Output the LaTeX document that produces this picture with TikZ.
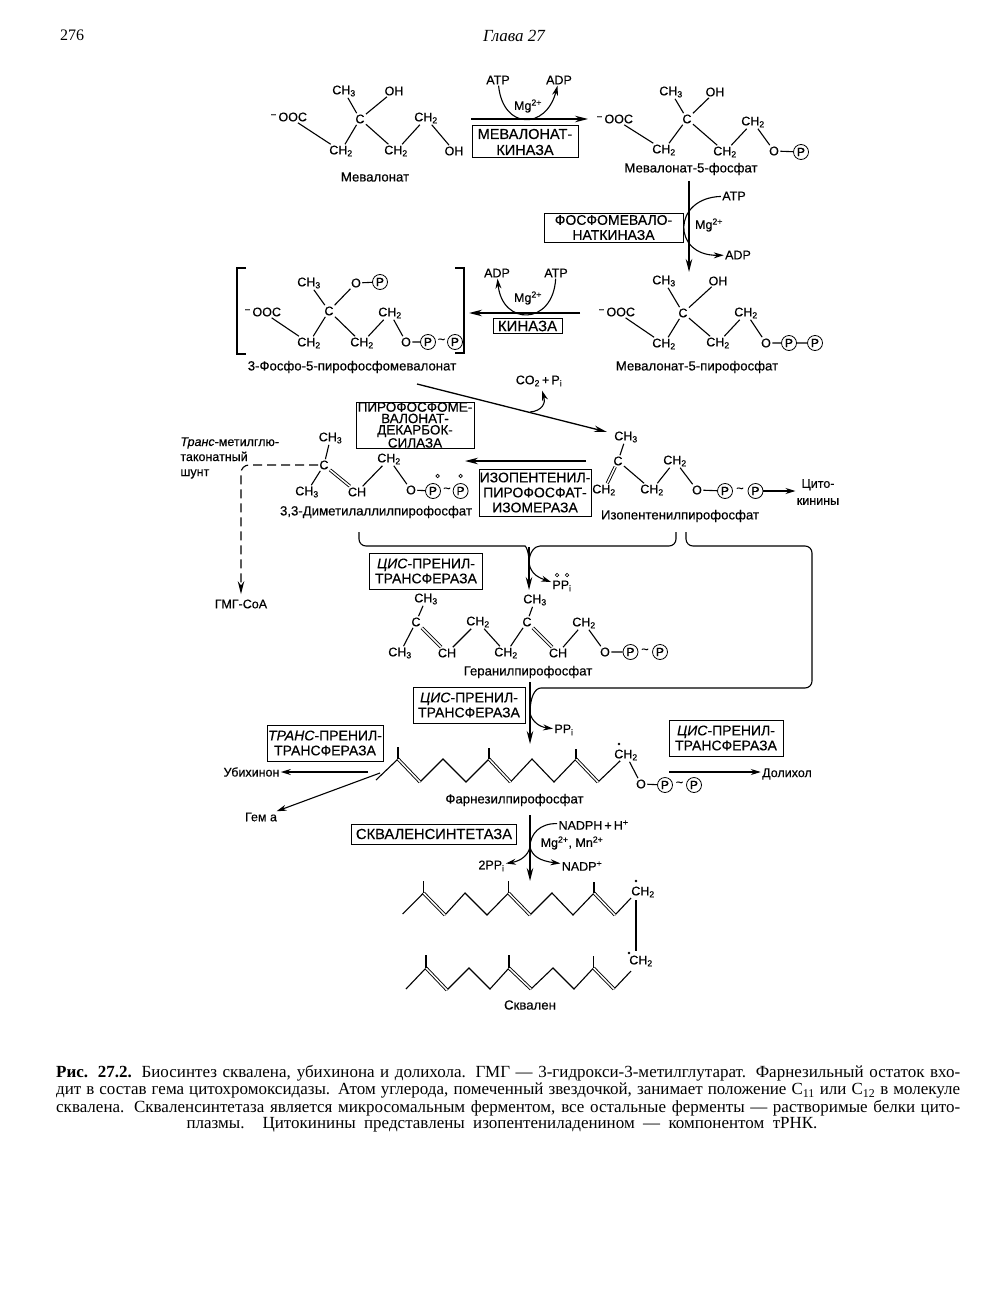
\documentclass[tikz,border=0pt]{standalone}
\usepackage{fontspec}
\setmainfont[FakeBold=0.35]{Liberation Sans}
\newfontfamily\capfont{Liberation Serif}
\usepackage{tikz}
\usetikzlibrary{arrows.meta}
\newcommand{\CHtri}{CH\textsubscript{3}}
\newcommand{\CHdi}{CH\textsubscript{2}}
\newcommand{\OOCm}{\textsuperscript{--}\,OOC}
\newcommand{\PPi}{PP\textsubscript{i}}
\newcommand{\Mgion}{Mg\textsuperscript{2+}}
\newcommand{\capline}[1]{\makebox[904pt][s]{#1}}

\begin{document}
\begin{tikzpicture}[
  x=1pt, y=-1pt,
  atom/.style={font=\fontsize{12.5}{14}\selectfont, inner sep=1.2pt},
  phos/.style={circle, draw, line width=0.8pt, inner sep=0pt, minimum size=15pt,
    font=\fontsize{12}{13}\selectfont},
  opendot/.style={circle, draw, line width=0.7pt, inner sep=0pt, minimum size=3.5pt},
  stardot/.style={circle, fill, inner sep=0pt, minimum size=2.6pt},
  molname/.style={font=\fontsize{13.2}{15}\selectfont, inner sep=1pt},
  enzyme/.style={draw, line width=1pt, align=center, inner sep=0pt,
    font=\fontsize{14}{15}\selectfont},
  capt/.style={font=\capfont\fontsize{17}{19}\selectfont, inner sep=0pt},
  bond/.style={line width=1.1pt},
  dbl/.style={line width=0.9pt, double, double distance=1.5pt},
  rxn/.style={line width=1.3pt, -{Stealth[length=13pt,width=6.5pt]}},
  side/.style={line width=1.1pt, -{Stealth[length=10pt,width=6pt]}},
  link/.style={line width=1.1pt, rounded corners=7pt}
]
\useasboundingbox (0,0) rectangle (1008,1300);

% Шапка страницы
\node[font=\capfont\fontsize{16}{18}\selectfont] (pagenum) at (72,35) {276};
\node[font=\capfont\itshape\fontsize{17}{19}\selectfont] (chapter) at (514,36) {Глава 27};

% Мевалонат
\node[atom] (mOOC) at (289,117) {\OOCm};
\node[atom] (mC) at (360,119) {C};
\node[atom] (mMe) at (344,91) {\CHtri};
\node[atom] (mOHa) at (394,91) {OH};
\node[atom] (mCHa) at (341,151) {\CHdi};
\node[atom] (mCHb) at (396,151) {\CHdi};
\node[atom] (mCHc) at (426,118) {\CHdi};
\node[atom] (mOHb) at (454,151) {OH};
\node[molname] (mName) at (375,177) {Мевалонат};
\draw[bond] (mC) -- (mMe);
\draw[bond] (mC) -- (mOHa);
\draw[bond] (mOOC) -- (mCHa) -- (mC) -- (mCHb) -- (mCHc) -- (mOHb);

% Мевалонат-5-фосфат
\node[atom] (nOOC) at (615,119) {\OOCm};
\node[atom] (nC) at (687,119) {C};
\node[atom] (nMe) at (671,92) {\CHtri};
\node[atom] (nOH) at (715,92) {OH};
\node[atom] (nCHa) at (664,150) {\CHdi};
\node[atom] (nCHb) at (725,152) {\CHdi};
\node[atom] (nCHc) at (753,122) {\CHdi};
\node[atom] (nO) at (774,151) {O};
\node[phos] (nP) at (801,152) {P};
\node[molname] (nName) at (691,169) {Мевалонат-5-фосфат};
\draw[bond] (nC) -- (nMe);
\draw[bond] (nC) -- (nOH);
\draw[bond] (nOOC) -- (nCHa) -- (nC) -- (nCHb) -- (nCHc) -- (nO) -- (nP);

% Мевалонат-5-пирофосфат
\node[atom] (qOOC) at (617,312) {\OOCm};
\node[atom] (qC) at (683,313) {C};
\node[atom] (qMe) at (664,281) {\CHtri};
\node[atom] (qOH) at (718,281) {OH};
\node[atom] (qCHa) at (664,344) {\CHdi};
\node[atom] (qCHb) at (718,343) {\CHdi};
\node[atom] (qCHc) at (746,313) {\CHdi};
\node[atom] (qO) at (766,343) {O};
\node[phos] (qPa) at (789,343) {P};
\node[phos] (qPb) at (815,343) {P};
\node[molname] (qName) at (697,367) {Мевалонат-5-пирофосфат};
\draw[bond] (qC) -- (qMe);
\draw[bond] (qC) -- (qOH);
\draw[bond] (qOOC) -- (qCHa) -- (qC) -- (qCHb) -- (qCHc) -- (qO) -- (qPa) -- (qPb);

% 3-Фосфо-5-пирофосфомевалонат
\node[atom] (pOOC) at (263,312) {\OOCm};
\node[atom] (pC) at (329,311) {C};
\node[atom] (pMe) at (309,283) {\CHtri};
\node[atom] (pOa) at (356,283) {O};
\node[phos] (pPa) at (380,282) {P};
\node[atom] (pCHa) at (309,343) {\CHdi};
\node[atom] (pCHb) at (362,343) {\CHdi};
\node[atom] (pCHc) at (390,313) {\CHdi};
\node[atom] (pOb) at (406,342) {O};
\node[phos] (pPb) at (428,342) {P};
\node[atom] (pTil) at (441.5,341) {\textasciitilde};
\node[phos] (pPc) at (455,342) {P};
\node[molname] (pName) at (352,367) {3-Фосфо-5-пирофосфомевалонат};
\draw[bond] (pC) -- (pMe);
\draw[bond] (pC) -- (pOa) -- (pPa);
\draw[bond] (pOOC) -- (pCHa) -- (pC) -- (pCHb) -- (pCHc) -- (pOb) -- (pPb);
\draw[line width=1.2pt] (246,268) -- (237,268) -- (237,354) -- (246,354);
\draw[line width=1.2pt] (455,268) -- (464,268) -- (464,353) -- (455,353);

% Реакция 1
\node[atom] (atpA) at (498,80) {ATP};
\node[atom] (adpA) at (559,80) {ADP};
\node[atom] (mgA) at (528,106) {\Mgion};
\node[enzyme, minimum width=106pt, minimum height=32pt, font=\fontsize{14.5}{16}\selectfont] (mevk) at (525,142) {МЕВАЛОНАТ-\\КИНАЗА};
\coordinate (rAs) at (471,119);
\coordinate (rAe) at (588,119);
\draw[rxn] (rAs) -- (rAe);
\draw[side] (atpA) .. controls (503,130) and (546,130) .. (adpA);

% Реакция 2
\node[atom] (atpB) at (734,196) {ATP};
\node[atom] (adpB) at (738,255) {ADP};
\node[atom] (mgB) at (709,225) {\Mgion};
\node[enzyme, minimum width=139pt, minimum height=29pt] (fmevk) at (613.5,227.5) {ФОСФОМЕВАЛО-\\НАТКИНАЗА};
\coordinate (rBs) at (689,181);
\coordinate (rBe) at (689,272);
\draw[rxn] (rBs) -- (rBe);
\draw[side] (atpB) .. controls (672,198) and (672,256) .. (adpB);

% Реакция 3
\node[atom] (atpC) at (556,273) {ATP};
\node[atom] (adpC) at (497,273) {ADP};
\node[atom] (mgC) at (528,298) {\Mgion};
\node[enzyme, minimum width=69pt, minimum height=15pt, font=\fontsize{15}{16}\selectfont] (kin) at (527.5,326) {КИНАЗА};
\coordinate (rCs) at (580,313);
\coordinate (rCe) at (469,313);
\draw[rxn] (rCs) -- (rCe);
\draw[side] (atpC) .. controls (553,326) and (502,326) .. (adpC);

% Декарбоксилирование
\node[atom] (co2) at (539,381) {CO\textsubscript{2}\,+\,P\textsubscript{i}};
\node[enzyme, minimum width=118pt, minimum height=46pt, font=\fontsize{13.5}{11.4}\selectfont] (pmd) at (415,425) {ПИРОФОСФОМЕ-\\ВАЛОНАТ-\\ДЕКАРБОК-\\СИЛАЗА};
\coordinate (rDs) at (417,384);
\coordinate (rDe) at (607,432);
\coordinate (rDb) at (530,412);
\draw[rxn] (rDs) -- (rDe);
\draw[side, shorten >=3pt] (rDb) .. controls (542,411) and (546,403) .. (co2);

% Изопентенилпирофосфат
\node[atom] (iMe) at (626,437) {\CHtri};
\node[atom] (iC) at (618,461) {C};
\node[atom] (iCHa) at (604,490) {\CHdi};
\node[atom] (iCHb) at (652,490) {\CHdi};
\node[atom] (iCHc) at (675,461) {\CHdi};
\node[atom] (iO) at (697,490) {O};
\node[phos] (iPa) at (725,491) {P};
\node[atom] (iTil) at (740,490) {\textasciitilde};
\node[phos] (iPb) at (755.5,491) {P};
\node[atom, align=center, font=\fontsize{12.5}{17}\selectfont] (cyto) at (818,492) {Цито-\\кинины};
\node[molname] (iName) at (680,516) {Изопентенилпирофосфат};
\draw[bond] (iC) -- (iMe);
\draw[dbl] (iC) -- (iCHa);
\draw[bond] (iC) -- (iCHb) -- (iCHc) -- (iO) -- (iPa);
\draw[side] (iPb) -- (cyto.west |- iPb);

% 3,3-Диметилаллилпирофосфат
\node[atom] (dMe) at (330.5,438) {\CHtri};
\node[atom] (dC) at (324,465) {C};
\node[atom] (dMeb) at (307,492) {\CHtri};
\node[atom] (dCH) at (357,492) {CH};
\node[atom] (dCHa) at (389,459) {\CHdi};
\node[atom] (dO) at (411,490) {O};
\node[phos] (dPa) at (433,491) {P};
\node[atom] (dTil) at (447,490) {\textasciitilde};
\node[phos] (dPb) at (460.6,491) {P};
\node[opendot] (dDota) at (437.6,476) {};
\node[opendot] (dDotb) at (460.6,476) {};
\node[molname] (dName) at (376,512) {3,3-Диметилаллилпирофосфат};
\draw[bond] (dC) -- (dMe);
\draw[bond] (dC) -- (dMeb);
\draw[dbl] (dC) -- (dCH);
\draw[bond] (dCH) -- (dCHa) -- (dO) -- (dPa);

% Изомераза
\node[enzyme, minimum width=112pt, minimum height=47pt] (isom) at (535,492.5) {ИЗОПЕНТЕНИЛ-\\ПИРОФОСФАТ-\\ИЗОМЕРАЗА};
\coordinate (rEs) at (586,461);
\coordinate (rEe) at (465,461);
\draw[rxn] (rEs) -- (rEe);

% Шунт
\node[atom, align=left, anchor=west, font=\fontsize{12.5}{15}\selectfont] (shunt) at (179,458) {\textit{Транс}-метилглю-\\таконатный\\шунт};
\node[atom] (gmg) at (241,604) {ГМГ-СоА};
\draw[line width=1.1pt, dash pattern=on 9pt off 5pt, rounded corners=8pt, -{Stealth[length=13pt,width=6.5pt]}, shorten >=4pt] (dC) -- (241,465) -- (gmg);

% Слияние
\coordinate (dLeg) at (359,532);
\coordinate (iLegA) at (676,532);
\coordinate (iLegB) at (686,532);
\coordinate (mergeA) at (529,563);
\coordinate (rFs) at (529,547);
\coordinate (rFe) at (529,590);
\draw[link] (dLeg) -- (359,546) -- (518,546) .. controls (526,546) and (529,552) .. (mergeA);
\draw[link] (iLegA) -- (676,546) -- (547,546) .. controls (535,546) and (529,552) .. (mergeA);
\draw[rxn] (rFs) -- (rFe);
\node[atom] (ppA) at (562,586) {\PPi};
\node[opendot] (ppDota) at (557,575) {};
\node[opendot] (ppDotb) at (567,575) {};
\draw[side] (mergeA) .. controls (531,575) and (540,578) .. (ppA);
\node[enzyme, minimum width=113pt, minimum height=36pt] (cisA) at (426,571) {\textit{ЦИС}-ПРЕНИЛ-\\ТРАНСФЕРАЗА};

% Геранилпирофосфат
\node[atom] (gMe) at (426,599) {\CHtri};
\node[atom] (gCa) at (416,622) {C};
\node[atom] (gMeb) at (400,653) {\CHtri};
\node[atom] (gCHa) at (447,653) {CH};
\node[atom] (gCHb) at (478,622) {\CHdi};
\node[atom] (gCHc) at (506,653) {\CHdi};
\node[atom] (gCb) at (527,622) {C};
\node[atom] (gMec) at (535,600) {\CHtri};
\node[atom] (gCHd) at (558,653) {CH};
\node[atom] (gCHe) at (584,623) {\CHdi};
\node[atom] (gO) at (605,652) {O};
\node[phos] (gPa) at (630.5,652) {P};
\node[atom] (gTil) at (645,651) {\textasciitilde};
\node[phos] (gPb) at (660,652) {P};
\node[molname] (gName) at (528,672) {Геранилпирофосфат};
\draw[bond] (gCa) -- (gMe);
\draw[bond] (gCa) -- (gMeb);
\draw[dbl] (gCa) -- (gCHa);
\draw[bond] (gCHa) -- (gCHb) -- (gCHc) -- (gCb) -- (gMec);
\draw[dbl] (gCb) -- (gCHd);
\draw[bond] (gCHd) -- (gCHe) -- (gO) -- (gPa);

% Вторая конденсация
\coordinate (mergeB) at (530,713);
\coordinate (rGs) at (530,682);
\coordinate (rGe) at (530,744);
\draw[link] (iLegB) -- (686,546) -- (812,546) -- (812,688) -- (548,688) .. controls (535,688) and (530,697) .. (mergeB);
\draw[rxn] (rGs) -- (rGe);
\node[atom] (ppB) at (564,730) {\PPi};
\draw[side] (mergeB) .. controls (532,722) and (540,727) .. (ppB);
\node[enzyme, minimum width=112pt, minimum height=36pt] (cisB) at (469,705) {\textit{ЦИС}-ПРЕНИЛ-\\ТРАНСФЕРАЗА};
\node[enzyme, minimum width=116pt, minimum height=36pt] (transC) at (325,743) {\textit{ТРАНС}-ПРЕНИЛ-\\ТРАНСФЕРАЗА};
\node[enzyme, minimum width=114pt, minimum height=36pt] (cisC) at (726,738) {\textit{ЦИС}-ПРЕНИЛ-\\ТРАНСФЕРАЗА};

% Фарнезилпирофосфат
\foreach \i/\cx/\cy in {0/376/780,1/398/759,2/420/782,3/443/759,4/466/782,5/489/759,6/510.5/782,7/532/759,8/554/782,9/576/759,10/598/782,11/620/761}{
  \coordinate (f\i) at (\cx,\cy);
}
\coordinate (fSa) at (398,747);
\coordinate (fSb) at (489,748);
\coordinate (fSc) at (576,749);
\draw[bond] (f0) -- (f1) (f2) -- (f3) -- (f4) -- (f5) (f6) -- (f7) -- (f8) -- (f9) (f10) -- (f11);
\draw[dbl] (f1) -- (f2);
\draw[dbl] (f5) -- (f6);
\draw[dbl] (f9) -- (f10);
\draw[bond] (f1) -- (fSa);
\draw[bond] (f5) -- (fSb);
\draw[bond] (f9) -- (fSc);
\node[atom] (fCH) at (626,755) {\CHdi};
\node[stardot] (fStar) at (619,744) {};
\node[atom] (fO) at (641,784) {O};
\node[phos] (fPa) at (665,785) {P};
\node[atom] (fTil) at (679.5,784) {\textasciitilde};
\node[phos] (fPb) at (694,785) {P};
\node[molname] (fName) at (514.5,800) {Фарнезилпирофосфат};
\draw[bond] (f11) -- (fCH);
\draw[bond] (fCH) -- (fO) -- (fPa);

% Ответвления
\node[atom] (dol) at (787,774) {Долихол};
\node[atom] (ubi) at (251.5,772) {Убихинон};
\node[atom] (hem) at (261,817) {Гем а};
\coordinate (rHs) at (669,772);
\coordinate (rIs) at (368,772);
\coordinate (rJs) at (380,773);
\draw[side] (rHs) -- (dol.west |- rHs);
\draw[side] (rIs) -- (ubi.east |- rIs);
\draw[side] (rJs) -- (hem);

% Скваленсинтетаза
\node[enzyme, minimum width=165pt, minimum height=20pt, font=\fontsize{14.7}{16}\selectfont] (sqs) at (434,834) {СКВАЛЕНСИНТЕТАЗА};
\node[atom] (nadph) at (593.5,825) {NADPH\,+\,H\textsuperscript{+}};
\node[atom] (mgmn) at (572,843) {\Mgion,\ Mn\textsuperscript{2+}};
\node[atom] (ppC) at (491.5,866) {2\PPi};
\node[atom] (nadp) at (582,866) {NADP\textsuperscript{+}};
\coordinate (rKs) at (530,815);
\coordinate (rKe) at (530,881);
\coordinate (mergeC) at (530,847);
\draw[rxn] (rKs) -- (rKe);
\draw[bond] (nadph) .. controls (540,823) and (530,834) .. (mergeC);
\draw[side] (mergeC) .. controls (532,856) and (540,861) .. (nadp);
\draw[side] (mergeC) .. controls (528,856) and (520,861) .. (ppC);

% Сквален, верхняя цепь
\foreach \i/\cx/\cy in {0/402.6/914,1/423.5/893,2/445/915,3/465/893,4/487/915,5/508.5/893,6/530/915,7/552/893,8/573/915,9/594/893,10/615/915,11/631/898}{
  \coordinate (s\i) at (\cx,\cy);
}
\coordinate (sSa) at (423.5,881);
\coordinate (sSb) at (508.5,881);
\coordinate (sSc) at (594,882);
\draw[bond] (s0) -- (s1) (s2) -- (s3) -- (s4) -- (s5) (s6) -- (s7) -- (s8) -- (s9) (s10) -- (s11);
\draw[dbl] (s1) -- (s2);
\draw[dbl] (s5) -- (s6);
\draw[dbl] (s9) -- (s10);
\draw[bond] (s1) -- (sSa);
\draw[bond] (s5) -- (sSb);
\draw[bond] (s9) -- (sSc);
\node[atom] (sCH) at (643,892) {\CHdi};
\node[stardot] (sStar) at (636,881) {};

% Сквален, нижняя цепь
\foreach \i/\cx/\cy in {0/406/989,1/426/968,2/447/990,3/469/968,4/490/989,5/509/968,6/531/989,7/553/968,8/574/989,9/593.5/968,10/614/989,11/631/971}{
  \coordinate (t\i) at (\cx,\cy);
}
\coordinate (tSa) at (426,955);
\coordinate (tSb) at (509,955);
\coordinate (tSc) at (593.5,956);
\draw[bond] (t0) -- (t1) (t2) -- (t3) -- (t4) -- (t5) (t6) -- (t7) -- (t8) -- (t9) (t10) -- (t11);
\draw[dbl] (t1) -- (t2);
\draw[dbl] (t5) -- (t6);
\draw[dbl] (t9) -- (t10);
\draw[bond] (t1) -- (tSa);
\draw[bond] (t5) -- (tSb);
\draw[bond] (t9) -- (tSc);
\node[atom] (tCH) at (641,961) {\CHdi};
\node[stardot] (tStar) at (629,953) {};
\coordinate (sLink) at (636,900);
\coordinate (tLink) at (636,951);
\draw[bond] (sLink) -- (tLink);
\node[molname] (tName) at (530,1005) {Сквален};

% Подпись
\node[capt, anchor=west] (capA) at (56,1073) {\capline{\textbf{Рис. 27.2.} Биосинтез сквалена, убихинона и долихола. ГМГ — 3-гидрокси-3-метилглутарат. Фарнезильный остаток вхо-}};
\node[capt, anchor=west] (capB) at (56,1091) {\capline{дит в состав гема цитохромоксидазы. Атом углерода, помеченный звездочкой, занимает положение C\textsubscript{11} или C\textsubscript{12} в молекуле}};
\node[capt, anchor=west] (capC) at (56,1108) {\capline{сквалена. Скваленсинтетаза является микросомальным ферментом, все остальные ферменты — растворимые белки цито-}};
\node[capt] (capD) at (502,1125) {\makebox[631pt][s]{плазмы. Цитокинины представлены изопентениладенином — компонентом тРНК.}};
\end{tikzpicture}
\end{document}
